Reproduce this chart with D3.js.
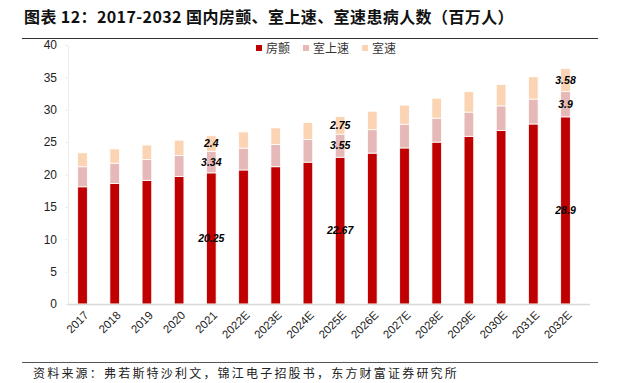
<!DOCTYPE html>
<html><head><meta charset="utf-8">
<script src="https://cdn.jsdelivr.net/npm/d3@7"></script>
<style>
html,body{margin:0;padding:0;background:#fff;}
svg{display:block;}
</style></head>
<body>
<svg id="c" width="618" height="383"></svg>
<script>
const categories = ["2017","2018","2019","2020","2021","2022E","2023E","2024E","2025E","2026E","2027E","2028E","2029E","2030E","2031E","2032E"];
const afib = [18.1,18.6,19.1,19.7,20.25,20.7,21.2,21.9,22.67,23.3,24.1,25.0,25.9,26.8,27.8,28.9];
const svt  = [3.1,3.15,3.2,3.25,3.34,3.37,3.45,3.5,3.55,3.62,3.66,3.7,3.74,3.8,3.85,3.9];
const vt   = [2.15,2.2,2.25,2.35,2.4,2.5,2.55,2.62,2.75,2.85,2.95,3.08,3.15,3.3,3.44,3.58];
const seriesNames = ["房颤","室上速","室速"];
const yTicks = [0,5,10,15,20,25,30,35,40];
const labeledIdx = [4,8,15];

const colors = ["#C00000","#E6B9B8","#FBD4B4"];
const svg = d3.select("#c");
const cjk = "'Noto Sans CJK SC','Noto Sans',sans-serif";
const latin = "'Liberation Sans',Arial,sans-serif";

// title
svg.append("text").attr("x",24).attr("y",23).attr("font-family",cjk).attr("font-weight","bold")
  .attr("font-size",16).attr("letter-spacing",0.4).attr("fill","#111").text("图表 12：2017-2032 国内房颤、室上速、室速患病人数（百万人）");
svg.append("line").attr("x1",22).attr("x2",598).attr("y1",38.5).attr("y2",38.5).attr("stroke","#333").attr("stroke-width",1);

// footer
svg.append("line").attr("x1",22).attr("x2",598).attr("y1",362.5).attr("y2",362.5).attr("stroke","#555").attr("stroke-width",1);
svg.append("text").attr("x",33).attr("y",378).attr("font-family",cjk).attr("font-size",12).attr("letter-spacing",2.2).attr("fill","#222")
  .text("资料来源：弗若斯特沙利文，锦江电子招股书，东方财富证券研究所");

const x = d3.scaleBand().domain(categories).range([66.4,581.6]).paddingInner(0.7).paddingOuter(0.35);
const y = d3.scaleLinear().domain([0,40]).range([304,45]);

// y axis
const ya = svg.append("g").attr("transform","translate(68,0)")
  .call(d3.axisLeft(y).tickValues(yTicks).tickSize(3).tickPadding(8));
ya.select(".domain").attr("stroke","#eeece4");
ya.selectAll(".tick line").attr("stroke","#eeece4");
ya.selectAll("text").attr("font-family",latin).attr("font-size",12).attr("fill","#222");

// stacks
const table = categories.map((c,i)=>({cat:c, s0:afib[i], s1:svt[i], s2:vt[i]}));
const stack = d3.stack().keys(["s0","s1","s2"])(table);
const g = svg.append("g");
stack.forEach((layer,li)=>{
  g.selectAll(null).data(layer).enter().append("rect")
    .attr("x",d=>x(d.data.cat)).attr("width",x.bandwidth())
    .attr("y",d=>y(d[1])).attr("height",d=>y(d[0])-y(d[1]))
    .attr("fill",colors[li]).attr("stroke","#fff").attr("stroke-width",0.8);
});

// x axis baseline
svg.append("line").attr("x1",68).attr("x2",590).attr("y1",304.5).attr("y2",304.5).attr("stroke","#d9d9d9").attr("stroke-width",1.5);
const xa = svg.append("g").attr("transform","translate(0,304)").call(d3.axisBottom(x).tickSize(0).tickPadding(0));
xa.select(".domain").remove();
xa.selectAll("text").attr("font-family",latin).attr("font-size",11.5).attr("fill","#222")
  .attr("text-anchor","end").attr("transform","translate(4,9) rotate(-45)").attr("dy","0.35em").attr("dx","0");

// data labels
stack.forEach((layer,li)=>{
  g.selectAll(null).data(layer.filter((d,i)=>labeledIdx.includes(i))).enter().append("text")
    .attr("x",d=>x(d.data.cat)+x.bandwidth()/2)
    .attr("y",d=>(y(d[0])+y(d[1]))/2).attr("dy","0.35em")
    .attr("text-anchor","middle").attr("font-family",latin).attr("font-weight","bold").attr("font-style","italic")
    .attr("font-size",10.5).attr("fill","#000")
    .text(d=>[afib,svt,vt][li][categories.indexOf(d.data.cat)]);
});

// legend
const legX = [256,303,362];
seriesNames.forEach((n,i)=>{
  svg.append("rect").attr("x",legX[i]).attr("y",45).attr("width",6).attr("height",6).attr("fill",colors[i]);
  svg.append("text").attr("x",legX[i]+10).attr("y",52.5).attr("font-family",cjk).attr("font-size",12).attr("fill","#333").text(n);
});
</script>
</body></html>
